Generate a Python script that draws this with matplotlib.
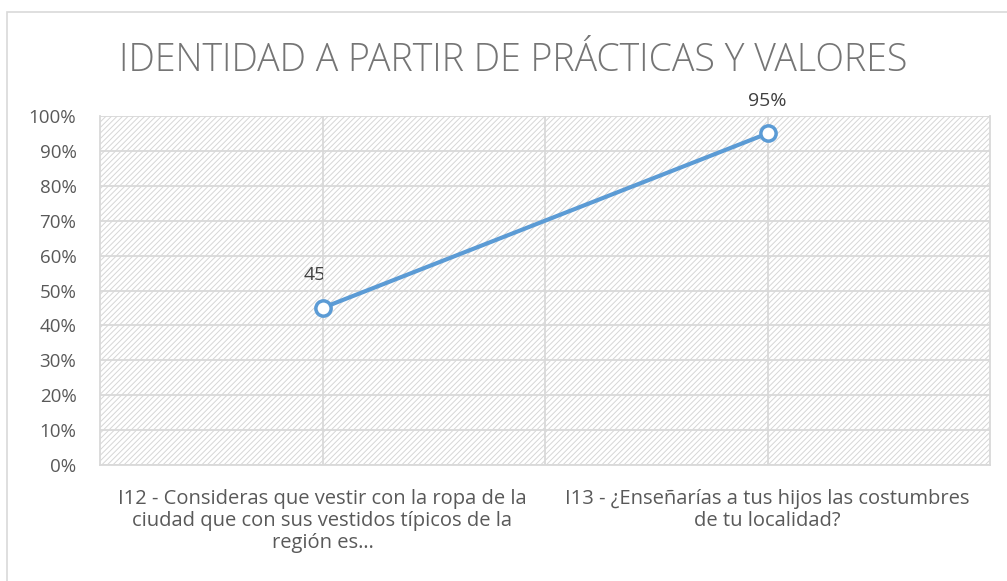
import numpy as np
import matplotlib
matplotlib.use("Agg")
import matplotlib.pyplot as plt
from matplotlib.patches import Rectangle

# --- data ---
categories = [
    "I12 - Consideras que vestir con la ropa de la\nciudad que con sus vestidos típicos de la\nregión es…",
    "I13 - ¿Enseñarías a tus hijos las costumbres\nde tu localidad?",
]
values = [0.45, 0.95]
labels = ["45%", "95%"]
yticks = np.arange(0, 1.01, 0.1)
title = "IDENTIDAD A PARTIR DE PRÁCTICAS Y VALORES"

LINE_C = "#5b9bd5"
TXT_C = "#595959"
GRID_C = "#d9d9d9"

plt.rcParams["font.family"] = ["Open Sans", "DejaVu Sans"]
plt.rcParams["hatch.linewidth"] = 0.7
plt.rcParams["hatch.color"] = "#d6d6d6"

fig = plt.figure(figsize=(10.07, 5.81), dpi=100, facecolor="white")

# outer chart border
fig.patches.append(Rectangle((7 / 1007, -0.1), 1.2, 1 - 12 / 581 + 0.1,
                             transform=fig.transFigure, fill=False,
                             edgecolor=GRID_C, lw=1.2))

ax = fig.add_axes([100 / 1007, 1 - 465 / 581, 890 / 1007, 349 / 581])
x = np.arange(len(values)) + 0.5

# hatched plot area
ax.add_patch(Rectangle((0, 0), 2, 1, facecolor="white", hatch="//////",
                       edgecolor="#d6d6d6", lw=0, zorder=0))

ax.set_xlim(0, 2)
ax.set_ylim(0, 1)
for yv in yticks:
    ax.axhline(yv, color=GRID_C, lw=1.3, zorder=1)
for xv in [0.5, 1.0, 1.5]:
    ax.axvline(xv, color=GRID_C, lw=1.3, zorder=1)

for s in ax.spines.values():
    s.set_visible(False)
ax.plot([0, 2], [0, 0], color=GRID_C, lw=1.3, zorder=1, clip_on=False)
ax.plot([0, 0], [0, 1], color=GRID_C, lw=1.3, zorder=1, clip_on=False)
ax.plot([2, 2], [0, 1], color=GRID_C, lw=1.3, zorder=1, clip_on=False)

ax.plot(x, values, color=LINE_C, lw=3, marker="o", markersize=11,
        markerfacecolor="white", markeredgecolor=LINE_C, markeredgewidth=2.5,
        zorder=5, solid_capstyle="round")

# data labels (first one is cut off by the gridline in the original)
for i, (xi, v, lab) in enumerate(zip(x, values, labels)):
    t = ax.annotate(lab, (xi, v), xytext=(0, 17), textcoords="offset points",
                    ha="center", va="bottom", fontsize=14, color="#404040",
                    zorder=6)
    if i == 0:
        clip = Rectangle((0, 0), xi, 1.2, transform=ax.transData)
        t.set_clip_path(clip)
        t.set_clip_on(True)

ax.set_yticks(yticks)
ax.set_yticklabels([f"{int(round(v * 100))}%" for v in yticks])
ax.set_xticks(x)
ax.set_xticklabels(categories, linespacing=1.15)
ax.tick_params(axis="y", length=0, labelsize=13.5, labelcolor=TXT_C, pad=17)
ax.tick_params(axis="x", length=0, labelsize=14.5, labelcolor=TXT_C, pad=17)

fig.text(513 / 1007, 1 - 61 / 581, title, ha="center", va="center",
         fontsize=27, color="#757575", fontweight="light")

fig.savefig("out.png", dpi=100)
